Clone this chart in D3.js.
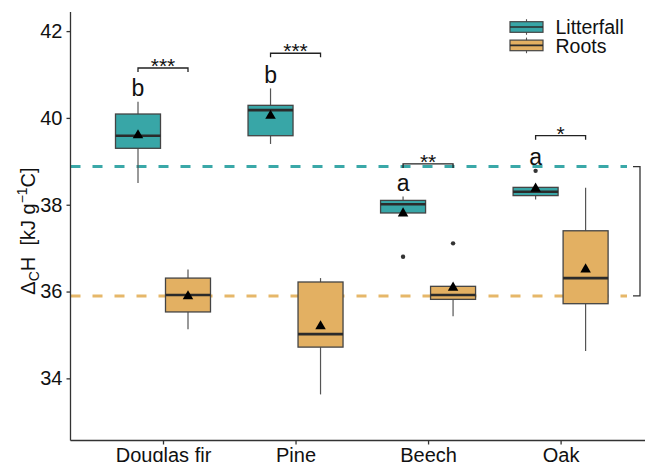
<!DOCTYPE html>
<html><head><meta charset="utf-8">
<script src="https://cdn.jsdelivr.net/npm/d3@7"></script>
<style>
html,body{margin:0;padding:0;background:#fff;}
svg text{font-family:"Liberation Sans",Arial,sans-serif;}
</style></head>
<body><svg id="c" width="645" height="462"></svg>
<script>
const categories = ["Douglas fir","Pine","Beech","Oak"];
const series = ["Litterfall","Roots"];
// box stats: [lowWhisker, q1, median, q3, highWhisker]
const litterfallBox = [[38.50,39.30,39.59,40.09,40.37],[39.40,39.59,40.18,40.29,40.68],[37.81,37.81,38.01,38.10,38.19],[38.12,38.21,38.30,38.40,38.40]];
const rootsBox      = [[35.13,35.53,35.92,36.31,36.51],[33.63,34.72,35.02,36.22,36.31],[35.43,35.82,35.92,36.12,36.12],[34.63,35.72,36.31,37.40,38.39]];
const litterfallMean = [39.60,40.05,37.80,38.37];
const rootsMean      = [35.89,35.20,36.09,36.51];
const litterfallOutliers = [[],[],[36.80],[38.78]];
const rootsOutliers      = [[],[],[37.11],[]];
const refLines = [38.88, 35.90];
const letters = ["b","b","a","a"];
const bracketY = [41.15,41.49,38.94,39.59];
const bracketLabels = ["***","***","**","*"];
const yTicks = [34,36,38,40,42];
const colors = {Litterfall:"#38a6a7", Roots:"#e3b062"};
const dashColors = {Litterfall:"#3aa8a8", Roots:"#e6b769"};

const svg = d3.select("#c");
const y = d3.scaleLinear().domain([32.58,42.44]).range([440,12]);
const x = d3.scalePoint().domain(categories).range([163,560.6]);
const dx = d3.scaleBand().domain(series).range([-50,50]);
const bw = dx.bandwidth()*0.9;
const axisX = 70.5;

// reference dashed lines
series.forEach((s,i)=>{
  svg.append("line").attr("x1",axisX).attr("x2",627).attr("y1",y(refLines[i])).attr("y2",y(refLines[i]))
    .attr("stroke",dashColors[s]).attr("stroke-width",3).attr("stroke-dasharray","10,12");
});

// boxes
const data = [];
categories.forEach((c,ci)=>{
  data.push({c, s:"Litterfall", b:litterfallBox[ci], m:litterfallMean[ci], o:litterfallOutliers[ci]});
  data.push({c, s:"Roots", b:rootsBox[ci], m:rootsMean[ci], o:rootsOutliers[ci]});
});
const g = svg.append("g");
data.forEach(d=>{
  const cx = x(d.c)+dx(d.s)+dx.bandwidth()/2;
  const [lo,q1,med,q3,hi] = d.b;
  g.append("line").attr("x1",cx).attr("x2",cx).attr("y1",y(hi)).attr("y2",y(q3)).attr("stroke","#555").attr("stroke-width",1.2);
  g.append("line").attr("x1",cx).attr("x2",cx).attr("y1",y(q1)).attr("y2",y(lo)).attr("stroke","#555").attr("stroke-width",1.2);
  g.append("rect").attr("x",cx-bw/2).attr("width",bw).attr("y",y(q3)).attr("height",y(q1)-y(q3))
    .attr("fill",colors[d.s]).attr("stroke","#444").attr("stroke-width",1.3);
  g.append("line").attr("x1",cx-bw/2).attr("x2",cx+bw/2).attr("y1",y(med)).attr("y2",y(med)).attr("stroke","#2b2b2b").attr("stroke-width",2.6);
  d.o.forEach(v=>{
    g.append("circle").attr("cx",cx).attr("cy",y(v)).attr("r",2.2).attr("fill","#333");
  });
  g.append("path").attr("d",d3.symbol(d3.symbolTriangle,48)()).attr("transform",`translate(${cx},${y(d.m)})`).attr("fill","#000");
});

// letters
categories.forEach((c,ci)=>{
  const cx = x(c)+dx("Litterfall")+dx.bandwidth()/2;
  const top = Math.max(litterfallBox[ci][4], ...litterfallOutliers[ci]);
  svg.append("text").attr("x",cx).attr("y",y(top)-5.5).attr("text-anchor","middle").attr("font-size",23).attr("fill","#111").text(letters[ci]);
});

// brackets
categories.forEach((c,ci)=>{
  const x1 = x(c)+dx("Litterfall")+dx.bandwidth()/2;
  const x2 = x(c)+dx("Roots")+dx.bandwidth()/2;
  const by = y(bracketY[ci]);
  svg.append("path").attr("d",`M${x1},${by+4}V${by}H${x2}V${by+4}`).attr("fill","none").attr("stroke","#222").attr("stroke-width",1.3);
  svg.append("text").attr("x",(x1+x2)/2).attr("y",by+5).attr("text-anchor","middle").attr("font-size",21).attr("fill","#111").text(bracketLabels[ci]);
});

// right bracket between reference lines
const ry1 = y(refLines[0]), ry2 = y(refLines[1]);
svg.append("path").attr("d",`M633,${ry1}H640V${ry2}H633`).attr("fill","none").attr("stroke","#333").attr("stroke-width",1.3);
svg.append("text").attr("transform",`translate(649,${(ry1+ry2)/2}) rotate(90)`).attr("text-anchor","middle").attr("font-size",16).attr("fill","#888").text("***");

// axes
const yAxis = d3.axisLeft(y).tickValues(yTicks).tickSize(4).tickPadding(4).tickSizeOuter(0);
const ya = svg.append("g").attr("transform",`translate(${axisX},0)`).call(yAxis);
ya.select(".domain").attr("d",`M0,12V440.5`);
ya.selectAll("text").attr("font-size",20).attr("fill","#111").style("font-family","Liberation Sans, Arial, sans-serif");
const xAxis = d3.axisBottom(x).tickSize(4).tickPadding(3).tickSizeOuter(0);
const xa = svg.append("g").attr("transform",`translate(0,440.5)`).call(xAxis);
xa.select(".domain").attr("d",`M${axisX},0H660`);
xa.selectAll("text").attr("font-size",20).attr("fill","#111").style("font-family","Liberation Sans, Arial, sans-serif");
[ya,xa].forEach(a=>{a.selectAll("path,line").attr("stroke","#333").attr("stroke-width",1.3);});

// y axis title
const t = svg.append("text").attr("transform","translate(35,231) rotate(-90)").attr("text-anchor","middle").attr("font-size",20).attr("fill","#111");
t.append("tspan").text("Δ");
t.append("tspan").attr("font-size",14).attr("baseline-shift","-25%").text("C");
t.append("tspan").text("H\u00a0\u00a0[kJ g");
t.append("tspan").attr("font-size",14).attr("baseline-shift","super").text("−1");
t.append("tspan").text("C]");

// legend
const lg = svg.append("g");
series.forEach((s,i)=>{
  const top = 21.7 + i*18.4;
  const kx = 510, kw = 33, kh = 10.6, mx = kx + kw/2;
  lg.append("line").attr("x1",mx).attr("x2",mx).attr("y1",top-2.5).attr("y2",top+kh+2.5).attr("stroke","#555").attr("stroke-width",1.1);
  lg.append("rect").attr("x",kx).attr("y",top).attr("width",kw).attr("height",kh).attr("fill",colors[s]).attr("stroke","#444").attr("stroke-width",1.2);
  lg.append("line").attr("x1",kx).attr("x2",kx+kw).attr("y1",top+kh/2).attr("y2",top+kh/2).attr("stroke","#2b2b2b").attr("stroke-width",1.6);
  lg.append("text").attr("x",555.5).attr("y",top+12.5).attr("font-size",19.5).attr("fill","#111").text(s);
});
</script></body></html>
